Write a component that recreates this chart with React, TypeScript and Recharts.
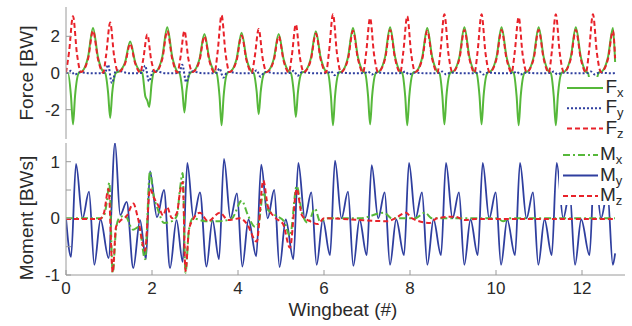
import React from 'react';
import { LineChart, Line, XAxis, YAxis, Legend } from 'recharts';

// axis ticks
const xTicks = [0, 2, 4, 6, 8, 10, 12];
const forceTicks = [-2, 0, 2];
const momentTicks = [-1, -0.5, 0, 0.5, 1];

// force, [wingbeat, BW]
const fx = [
  [0, 0],
  [0.047, 0], [0.116, -1.26], [0.163, -2.8], [0.21, -1.26], [0.303, 0.02], [0.372, 0.08], [0.512, 0.86], [0.628, 2.46], [0.744, 0.86], [0.861, 0.08],
  [0.911, 0], [0.98, -1.1], [1.027, -2.45], [1.074, -1.1], [1.167, 0.02], [1.236, 0.08], [1.376, 0.6], [1.492, 1.72], [1.608, 0.6], [1.725, 0.08],
  [1.774, 0], [1.843, -1.25], [1.89, -1.5], [1.937, -1.85], [1.99, -0.6], [2.04, 0.02], [2.099, 0.08], [2.239, 0.88], [2.355, 2.5], [2.471, 0.88], [2.588, 0.08],
  [2.638, 0], [2.707, -0.97], [2.754, -2.15], [2.801, -0.97], [2.894, 0.02], [2.963, 0.08], [3.103, 0.75], [3.219, 2.13], [3.335, 0.75], [3.452, 0.08],
  [3.502, 0], [3.571, -1.28], [3.618, -2.85], [3.665, -1.28], [3.758, 0.02], [3.827, 0.08], [3.967, 0.77], [4.083, 2.2], [4.199, 0.77], [4.316, 0.08],
  [4.365, 0], [4.434, -1.01], [4.481, -2.25], [4.528, -1.01], [4.621, 0.02], [4.69, 0.08], [4.83, 0.75], [4.946, 2.13], [5.062, 0.75], [5.179, 0.08],
  [5.229, 0], [5.298, -1.08], [5.345, -2.4], [5.392, -1.08], [5.485, 0.02], [5.554, 0.08], [5.694, 0.8], [5.81, 2.28], [5.926, 0.8], [6.043, 0.08],
  [6.093, 0], [6.162, -1.28], [6.209, -2.85], [6.256, -1.28], [6.349, 0.02], [6.418, 0.08], [6.558, 0.86], [6.674, 2.45], [6.79, 0.86], [6.907, 0.08],
  [6.956, 0], [7.025, -1.26], [7.072, -2.8], [7.119, -1.26], [7.212, 0.02], [7.281, 0.08], [7.421, 0.88], [7.537, 2.5], [7.653, 0.88], [7.77, 0.08],
  [7.82, 0], [7.889, -1.28], [7.936, -2.85], [7.983, -1.28], [8.076, 0.02], [8.145, 0.08], [8.285, 0.86], [8.401, 2.45], [8.517, 0.86], [8.634, 0.08],
  [8.684, 0], [8.753, -1.26], [8.8, -2.8], [8.847, -1.26], [8.94, 0.02], [9.009, 0.08], [9.149, 0.88], [9.265, 2.5], [9.381, 0.88], [9.498, 0.08],
  [9.548, 0], [9.617, -1.26], [9.664, -2.8], [9.711, -1.26], [9.804, 0.02], [9.873, 0.08], [10.013, 0.88], [10.129, 2.5], [10.245, 0.88], [10.362, 0.08],
  [10.411, 0], [10.48, -1.28], [10.527, -2.85], [10.574, -1.28], [10.667, 0.02], [10.736, 0.08], [10.876, 0.88], [10.992, 2.5], [11.108, 0.88], [11.225, 0.08],
  [11.275, 0], [11.344, -1.28], [11.391, -2.85], [11.438, -1.28], [11.531, 0.02], [11.6, 0.08], [11.74, 0.88], [11.856, 2.5], [11.972, 0.88], [12.089, 0.08],
  [12.139, 0], [12.208, -1.28], [12.255, -2.85], [12.302, -1.28], [12.395, 0.02], [12.464, 0.08], [12.604, 0.86], [12.72, 2.45], [12.77, 0.6],
];

const fy = [
  [0, 0],
  [0.043, 0], [0.113, 0.12], [0.203, -0.1], [0.303, 0.04], [0.613, -0.02],
  [0.907, 0], [0.977, 0.45], [1.067, -0.55], [1.167, 0.15], [1.477, -0.02],
  [1.77, 0], [1.84, 0.4], [1.93, -0.45], [2.03, 0.12], [2.34, -0.02],
  [2.634, 0], [2.704, 0.45], [2.794, -0.5], [2.894, 0.1], [3.204, -0.02],
  [3.498, 0], [3.568, 0.25], [3.658, -0.25], [3.758, 0.06], [4.068, -0.02],
  [4.361, 0], [4.431, 0.15], [4.521, -0.2], [4.621, 0.05], [4.931, -0.02],
  [5.225, 0], [5.295, 0.12], [5.385, -0.15], [5.485, 0.04], [5.795, -0.02],
  [6.089, 0], [6.159, 0.1], [6.249, -0.12], [6.349, 0.03], [6.659, -0.02],
  [6.952, 0], [7.022, 0.08], [7.112, -0.08], [7.212, 0.02], [7.522, -0.02],
  [7.816, 0], [7.886, 0.08], [7.976, -0.08], [8.076, 0.02], [8.386, -0.02],
  [8.68, 0], [8.75, 0.08], [8.84, -0.08], [8.94, 0.02], [9.25, -0.02],
  [9.544, 0], [9.614, 0.08], [9.704, -0.08], [9.804, 0.02], [10.114, -0.02],
  [10.407, 0], [10.477, 0.08], [10.567, -0.08], [10.667, 0.02], [10.977, -0.02],
  [11.271, 0], [11.341, 0.08], [11.431, -0.08], [11.531, 0.02], [11.841, -0.02],
  [12.135, 0], [12.205, 0.08], [12.295, -0.08], [12.395, 0.02], [12.705, -0.02], [12.77, 0],
];

const fz = [
  [0, 0.02], [0.07, 1.12], [0.163, 3.1], [0.256, 1.02], [0.349, 0.05], [0.512, 0.76], [0.628, 2.3], [0.744, 0.76],
  [0.864, 0.02], [0.934, 0.99], [1.027, 2.75], [1.12, 0.91], [1.213, 0.05], [1.376, 0.53], [1.492, 1.6], [1.608, 0.53],
  [1.727, 0.02], [1.797, 0.76], [1.89, 2.1], [1.983, 0.69], [2.076, 0.05], [2.239, 0.76], [2.355, 2.3], [2.471, 0.76],
  [2.591, 0.02], [2.661, 0.83], [2.754, 2.3], [2.847, 0.76], [2.94, 0.05], [3.103, 0.66], [3.219, 2.0], [3.335, 0.66],
  [3.455, 0.02], [3.525, 1.13], [3.618, 3.15], [3.711, 1.04], [3.804, 0.05], [3.967, 0.68], [4.083, 2.05], [4.199, 0.68],
  [4.318, 0.02], [4.388, 0.86], [4.481, 2.4], [4.574, 0.79], [4.667, 0.05], [4.83, 0.66], [4.946, 2.0], [5.062, 0.66],
  [5.182, 0.02], [5.252, 0.95], [5.345, 2.65], [5.438, 0.87], [5.531, 0.05], [5.694, 0.71], [5.81, 2.15], [5.926, 0.71],
  [6.046, 0.02], [6.116, 1.15], [6.209, 3.2], [6.302, 1.06], [6.395, 0.05], [6.558, 0.76], [6.674, 2.3], [6.79, 0.76],
  [6.909, 0.02], [6.979, 1.08], [7.072, 3.0], [7.165, 0.99], [7.258, 0.05], [7.421, 0.78], [7.537, 2.35], [7.653, 0.78],
  [7.773, 0.02], [7.843, 1.12], [7.936, 3.1], [8.029, 1.02], [8.122, 0.05], [8.285, 0.76], [8.401, 2.3], [8.517, 0.76],
  [8.637, 0.02], [8.707, 1.15], [8.8, 3.2], [8.893, 1.06], [8.986, 0.05], [9.149, 0.78], [9.265, 2.35], [9.381, 0.78],
  [9.501, 0.02], [9.571, 1.15], [9.664, 3.2], [9.757, 1.06], [9.85, 0.05], [10.013, 0.78], [10.129, 2.35], [10.245, 0.78],
  [10.364, 0.02], [10.434, 1.1], [10.527, 3.05], [10.62, 1.0], [10.713, 0.05], [10.876, 0.78], [10.992, 2.35], [11.108, 0.78],
  [11.228, 0.02], [11.298, 1.15], [11.391, 3.2], [11.484, 1.06], [11.577, 0.05], [11.74, 0.78], [11.856, 2.35], [11.972, 0.78],
  [12.092, 0.02], [12.162, 1.15], [12.255, 3.2], [12.348, 1.06], [12.441, 0.05], [12.604, 0.76], [12.72, 2.3], [12.77, 0.8],
];

// moment, [wingbeat, BWs]
const mx = [
  [0, 0], [0.791, 0], [0.884, 0.05], [0.953, 0.31], [1.007, 0.63], [1.086, -0.96], [1.163, -0.2], [1.233, 0],
  [1.372, 0.05], [1.558, -0.2], [1.698, -0.15], [1.837, -0.72], [1.953, 0.83], [2.023, 0.46], [2.14, 0.15],
  [2.279, -0.08], [2.465, -0.05], [2.581, 0.05], [2.651, 0.52], [2.714, 0.8], [2.779, -0.96], [2.86, -0.2],
  [2.953, 0], [3.233, -0.05], [3.581, -0.05], [3.86, 0], [4.086, 0.31], [4.233, 0.05], [4.395, -0.15],
  [4.488, -0.05], [4.588, 0.46], [4.698, 0.15], [4.884, 0.05], [5.07, -0.05], [5.209, -0.31], [5.365, 0.57],
  [5.488, 0.1], [5.628, -0.08], [5.791, 0.17], [5.907, -0.05], [6.093, 0], [6.837, 0], [7.395, 0.1],
  [7.581, 0], [8.116, 0], [8.349, 0.1], [8.512, 0], [10.023, 0], [10.163, -0.05], [10.326, 0], [12.767, 0],
];

const my = [
  [0, 0],
  [0.117, -0.68], [0.233, 0.96], [0.384, 0], [0.535, 0.47], [0.659, -0.82], [0.803, -0.02],
  [0.99, -0.7], [1.14, 1.33], [1.26, 0.06], [1.412, 0.29], [1.565, -0.88], [1.721, -0.03],
  [1.86, -0.72], [1.953, 0.83], [2.116, 0.02], [2.279, 0.5], [2.419, -0.88], [2.57, -0.03],
  [2.714, -0.77], [2.821, 0.98], [2.965, 0], [3.116, 0.46], [3.267, -0.85], [3.407, -0.03],
  [3.558, -0.72], [3.674, 1.05], [3.825, 0], [3.976, 0.44], [4.1, -0.85], [4.244, -0.02],
  [4.424, -0.67], [4.54, 0.95], [4.691, 0], [4.842, 0.5], [4.966, -0.86], [5.11, -0.02],
  [5.287, -0.72], [5.403, 0.98], [5.554, 0], [5.705, 0.46], [5.829, -0.82], [5.973, -0.02],
  [6.14, -0.65], [6.256, 1.02], [6.407, 0], [6.558, 0.47], [6.682, -0.84], [6.826, -0.02],
  [6.993, -0.65], [7.109, 0.94], [7.26, 0], [7.411, 0.46], [7.535, -0.82], [7.679, -0.02],
  [7.861, -0.65], [7.977, 0.98], [8.128, 0], [8.279, 0.46], [8.403, -0.82], [8.547, -0.02],
  [8.721, -0.65], [8.837, 0.98], [8.988, 0], [9.139, 0.46], [9.263, -0.82], [9.407, -0.02],
  [9.575, -0.65], [9.691, 0.98], [9.842, 0], [9.993, 0.46], [10.117, -0.82], [10.261, -0.02],
  [10.442, -0.65], [10.558, 0.98], [10.709, 0], [10.86, 0.46], [10.984, -0.82], [11.128, -0.02],
  [11.296, -0.65], [11.412, 0.98], [11.563, 0], [11.714, 0.46], [11.838, -0.82], [11.982, -0.02],
  [12.175, -0.65], [12.291, 0.98], [12.442, 0], [12.593, 0.46], [12.717, -0.82], [12.77, -0.62],
];

const mz = [
  [0, -0.01], [0.791, -0.01], [0.884, 0.1], [0.988, 0.52], [1.086, -0.95], [1.163, -0.15], [1.256, -0.05],
  [1.419, 0.05], [1.565, 0.26], [1.674, 0], [1.837, -0.57], [1.953, 0.52], [2.047, 0.36], [2.163, 0.2],
  [2.256, 0.05], [2.349, 0.2], [2.465, 0], [2.581, 0.1], [2.651, 0.46], [2.714, 0.64], [2.779, -0.93],
  [2.86, -0.2], [2.953, -0.02], [3.116, 0.1], [3.302, -0.05], [3.581, 0.1], [3.767, -0.03], [4.047, 0],
  [4.209, -0.1], [4.435, -0.41], [4.588, 0.67], [4.698, 0.2], [4.884, 0], [5.047, -0.1], [5.209, -0.52],
  [5.365, 0.52], [5.488, 0.05], [5.674, -0.05], [5.86, -0.1], [6.0, 0], [7.488, -0.05], [7.651, 0],
  [7.907, 0.1], [8.047, 0], [8.465, -0.08], [8.628, 0], [9.047, 0.03], [9.279, -0.03], [9.512, -0.01], [12.767, -0.01],
];

const GREEN = '#56b83a';
const BLUE = '#2f3f9f';
const RED = '#e8222a';
const AXIS = '#9a9a9a';
const INK = '#2a2a2a';
const FONT = '"Liberation Sans", Arial, Helvetica, sans-serif';

const rows = (pts: number[][]) => pts.map(([x, y]) => ({ x, y }));

type Entry = { base: string; sub: string; color: string; dash?: string };

const forceLegend: Entry[] = [
  { base: 'F', sub: 'x', color: GREEN },
  { base: 'F', sub: 'y', color: BLUE, dash: '2 2' },
  { base: 'F', sub: 'z', color: RED, dash: '5 3' },
];
const momentLegend: Entry[] = [
  { base: 'M', sub: 'x', color: GREEN, dash: '7 3 2 3' },
  { base: 'M', sub: 'y', color: BLUE },
  { base: 'M', sub: 'z', color: RED, dash: '5 3' },
];

const LegendBox = ({ items, w, h, x0, x1, y0, step, tx }: {
  items: Entry[]; w: number; h: number; x0: number; x1: number; y0: number; step: number; tx: number;
}) => (
  <svg width={w} height={h + 8} style={{ display: 'block', overflow: 'visible' }}>
    <rect x={0} y={0} width={w} height={h} fill="#fff" />
    {items.map((it, i) => {
      const y = y0 + i * step;
      return (
        <g key={it.sub}>
          <line x1={x0} x2={x1} y1={y} y2={y} stroke={it.color} strokeWidth={2} strokeDasharray={it.dash} />
          <text x={tx} y={y + 5} fontSize={19} fill={INK} fontFamily={FONT}>
            {it.base}
            <tspan fontSize={13} dy={4}>{it.sub}</tspan>
          </text>
        </g>
      );
    })}
  </svg>
);

const Title = ({ cx, cy, text, rotate }: { cx: number; cy: number; text: string; rotate?: boolean }) => (
  <text
    x={cx}
    y={cy}
    textAnchor="middle"
    dominantBaseline={rotate ? 'central' : 'auto'}
    transform={rotate ? `rotate(-90, ${cx}, ${cy})` : undefined}
    fontSize={19}
    fill={INK}
    fontFamily={FONT}
  >
    {text}
  </text>
);

const tickStyle = { fill: INK, fontSize: 17, fontFamily: FONT };

export default function App() {
  return (
    <div style={{ position: 'absolute', left: 0, top: 0, width: 632, height: 326, background: '#fff', fontFamily: FONT }}>
      <div style={{ position: 'absolute', left: 0, top: 0 }}>
        <LineChart width={632} height={141} margin={{ top: 7, right: 7, bottom: 2, left: 0 }}>
          <XAxis dataKey="x" type="number" domain={[0, 13]} ticks={xTicks} tick={false} tickSize={-5} height={0} stroke={AXIS} allowDataOverflow />
          <XAxis xAxisId="top" orientation="top" dataKey="x" type="number" domain={[0, 13]} ticks={xTicks} tick={false} tickSize={-5} height={0} stroke={AXIS} allowDataOverflow />
          <YAxis
            type="number"
            domain={[-3.6, 3.6]}
            ticks={forceTicks}
            width={66}
            tickSize={-5}
            tickMargin={11}
            tick={tickStyle}
            stroke={AXIS}
            allowDataOverflow
            label={<Title cx={26} cy={73} text="Force [BW]" rotate />}
          />
          <YAxis yAxisId="r" orientation="right" type="number" domain={[-3.6, 3.6]} ticks={forceTicks} width={0} tickSize={-5} tick={false} stroke={AXIS} allowDataOverflow />
          <Line data={rows(fx)} dataKey="y" type="monotone" stroke={GREEN} strokeWidth={2} dot={false} isAnimationActive={false} />
          <Line data={rows(fy)} dataKey="y" type="monotone" stroke={BLUE} strokeWidth={2} strokeDasharray="2 2" dot={false} isAnimationActive={false} />
          <Line data={rows(fz)} dataKey="y" type="monotone" stroke={RED} strokeWidth={2} strokeDasharray="5 3" dot={false} isAnimationActive={false} />
          <Legend
            layout="vertical"
            align="center"
            verticalAlign="middle"
            wrapperStyle={{ left: 562, top: 77, width: 64, height: 62 }}
            content={() => <LegendBox items={forceLegend} w={64} h={62} x0={5} x1={41} y0={11} step={20.3} tx={43.5} />}
          />
        </LineChart>
      </div>
      <div style={{ position: 'absolute', left: 0, top: 136 }}>
        <LineChart width={632} height={190} margin={{ top: 7, right: 7, bottom: 0, left: 0 }}>
          <XAxis
            dataKey="x"
            type="number"
            domain={[0, 13]}
            ticks={xTicks}
            tickSize={-5}
            tickMargin={12}
            tick={tickStyle}
            height={51}
            stroke={AXIS}
            allowDataOverflow
            label={<Title cx={343} cy={180} text="Wingbeat (#)" />}
          />
          <XAxis xAxisId="top" orientation="top" dataKey="x" type="number" domain={[0, 13]} ticks={xTicks} tick={false} tickSize={-5} height={0} stroke={AXIS} allowDataOverflow />
          <YAxis
            type="number"
            domain={[-1, 1.33]}
            ticks={momentTicks}
            width={66}
            tickSize={-5}
            tickMargin={11}
            tick={tickStyle}
            tickFormatter={(v: number) => (Number.isInteger(v) ? String(v) : '')}
            stroke={AXIS}
            allowDataOverflow
            label={<Title cx={26} cy={82} text="Moment [BWs]" rotate />}
          />
          <YAxis yAxisId="r" orientation="right" type="number" domain={[-1, 1.33]} ticks={momentTicks} width={0} tickSize={-5} tick={false} stroke={AXIS} allowDataOverflow />
          <Line data={rows(my)} dataKey="y" type="monotone" stroke={BLUE} strokeWidth={1.8} dot={false} isAnimationActive={false} />
          <Line data={rows(mx)} dataKey="y" type="monotone" stroke={GREEN} strokeWidth={2} strokeDasharray="7 3 2 3" dot={false} isAnimationActive={false} />
          <Line data={rows(mz)} dataKey="y" type="monotone" stroke={RED} strokeWidth={2} strokeDasharray="5 3" dot={false} isAnimationActive={false} />
          <Legend
            layout="vertical"
            align="center"
            verticalAlign="middle"
            wrapperStyle={{ left: 559, top: 7, width: 67, height: 62 }}
            content={() => <LegendBox items={momentLegend} w={67} h={62} x0={4} x1={39} y0={12} step={20.5} tx={41} />}
          />
        </LineChart>
      </div>
    </div>
  );
}
